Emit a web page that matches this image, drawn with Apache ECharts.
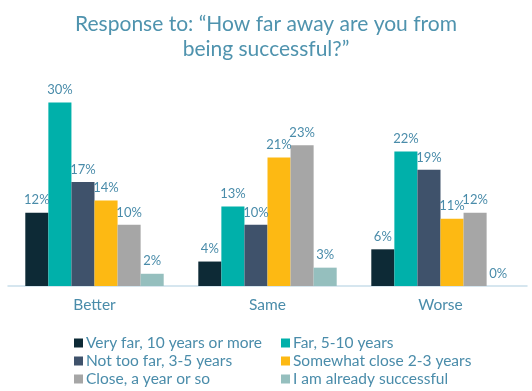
<!DOCTYPE html>
<html><head><meta charset="utf-8">
<script src="https://cdn.jsdelivr.net/npm/echarts@6/dist/echarts.min.js"></script>
<style>html,body{margin:0;padding:0;background:#fff}#c{width:532px;height:391px}</style>
</head><body><div id="c"></div>
<script>
const categories = ["Better", "Same", "Worse"];
const seriesNames = ["Very far, 10 years or more", "Far, 5-10 years", "Not too far, 3-5 years", "Somewhat close 2-3 years", "Close, a year or so", "I am already successful"];
const veryFar = [12, 4, 6];
const far = [30, 13, 22];
const notTooFar = [17, 10, 19];
const somewhatClose = [14, 21, 11];
const close = [10, 23, 12];
const already = [2, 3, 0];
const colors = ["#0D2A36", "#00B0AA", "#3F526B", "#FDB913", "#A6A6A6", "#95BFBE"];
const allValues = [veryFar, far, notTooFar, somewhatClose, close, already];
const txt = "#4A8CAA";
const font = "Lato, 'DejaVu Sans', sans-serif";
const chart = echarts.init(document.getElementById('c'));
const legendText = {color: txt, fontSize: 15.5, fontFamily: font, lineHeight: 16, padding: [0,0,0,-2]};
chart.setOption({
  animation: false,
  title: {
    text: "Response to: \u201cHow far away are you from\nbeing successful?\u201d",
    left: 'center', top: 7,
    textStyle: {color: "#4F93AE", fontSize: 21, fontWeight: 'normal', fontFamily: font, lineHeight: 25}
  },
  legend: [
    {data: [seriesNames[0], seriesNames[2], seriesNames[4]], orient: 'vertical', left: 74, top: 335, height: 56, itemWidth: 9, itemHeight: 9, itemGap: 2, icon: 'rect', padding: 0,
     textStyle: legendText},
    {data: [seriesNames[1], seriesNames[3], seriesNames[5]], orient: 'vertical', left: 281, top: 335, height: 56, itemWidth: 9, itemHeight: 9, itemGap: 2, icon: 'rect', padding: 0,
     textStyle: legendText}
  ],
  grid: {left: 8, right: 5, top: 72, bottom: 105},
  xAxis: {type: 'category', data: categories,
    axisLine: {lineStyle: {color: "#C9DEEA", width: 1.5}}, axisTick: {show: false},
    axisLabel: {color: txt, fontSize: 15.5, fontFamily: font, margin: 11}},
  yAxis: {type: 'value', min: 0, max: 35, show: false, splitLine: {show: false}},
  series: allValues.map((vals, i) => ({
    name: seriesNames[i], type: 'bar', data: vals, barGap: '0%', barCategoryGap: '20%',
    itemStyle: {color: colors[i]},
    label: {show: true, position: 'top', formatter: '{c}%', color: txt, fontSize: 13, fontFamily: font, distance: 6}
  }))
});
</script></body></html>
